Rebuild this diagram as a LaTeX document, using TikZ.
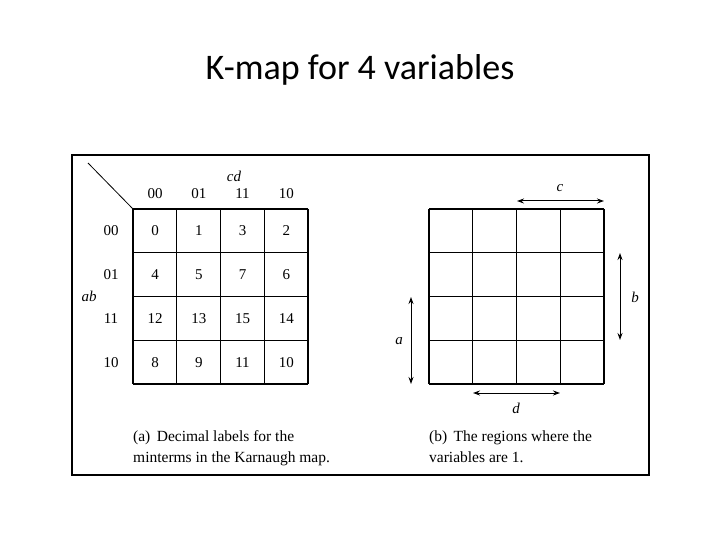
\documentclass[tikz,border=0pt]{standalone}
\usepackage{fontspec}
\setmainfont{Liberation Serif}
\newfontfamily\titlefont{Carlito}
\usetikzlibrary{arrows.meta}
\begin{document}
\begin{tikzpicture}[x=1pt,y=-1pt,
  lab/.style={font=\fontsize{15}{17}\selectfont, inner sep=0pt},
  ilab/.style={font=\itshape\fontsize{15}{17}\selectfont, inner sep=0pt},
  cell/.style={draw, line width=1.1pt},
  darr/.style={line width=1pt, {Stealth[length=7pt,width=5pt]}-{Stealth[length=7pt,width=5pt]}},
  captxt/.style={font=\fontsize{15.5}{21}\selectfont, anchor=base west, inner sep=0pt}]
\useasboundingbox (0,0) rectangle (720,540);
\node[font=\titlefont\fontsize{36}{42}\selectfont] (title) at (360,70) {K-map for 4 variables};
\draw[line width=1.8pt] (72,155) rectangle (649,475);
% grids
\foreach \gx in {133,429}{
  \foreach \i in {0,...,4}{
    \draw[cell] (\gx+\i*43.75,209) -- (\gx+\i*43.75,384);
    \draw[cell] (\gx,209+\i*43.75) -- (\gx+175,209+\i*43.75);
  }
}
\draw[line width=0.8pt] (88,163) -- (133,209);
\node[ilab] (cd) at (234,176) {cd};
\node[ilab] (ab) at (89,296) {ab};
\foreach \s [count=\i from 0] in {00,01,11,10}{
  \node[lab] (col\i) at (155+\i*43.75,194) {\s};
  \node[lab] (row\i) at (111,231+\i*43.75) {\s};
}
\foreach \v [count=\k from 0] in {0,1,3,2,4,5,7,6,12,13,15,14,8,9,11,10}{
  \pgfmathtruncatemacro\c{mod(\k,4)}
  \pgfmathtruncatemacro\r{div(\k,4)}
  \node[lab] (m\k) at (155+\c*43.75,231+\r*43.75) {\v};
}
\coordinate (c1) at (517,201); \coordinate (c2) at (604,201);
\coordinate (b1) at (620,253); \coordinate (b2) at (620,340);
\coordinate (a1) at (411,297); \coordinate (a2) at (411,384);
\coordinate (d1) at (473,393); \coordinate (d2) at (560,393);
\draw[darr] (c1) -- (c2); \draw[darr] (b1) -- (b2);
\draw[darr] (a1) -- (a2); \draw[darr] (d1) -- (d2);
\node[ilab] (c) at (560,188) {c};
\node[ilab] (b) at (635,297) {b};
\node[ilab] (a) at (399,341) {a};
\node[ilab] (d) at (516,408) {d};
\node[captxt] (capa1) at (133,441) {(a)\, Decimal labels for the};
\node[captxt] (capa2) at (133,462) {minterms in the Karnaugh map.};
\node[captxt] (capb1) at (429,441) {(b)\, The regions where the};
\node[captxt] (capb2) at (429,462) {variables are 1.};
\end{tikzpicture}
\end{document}
